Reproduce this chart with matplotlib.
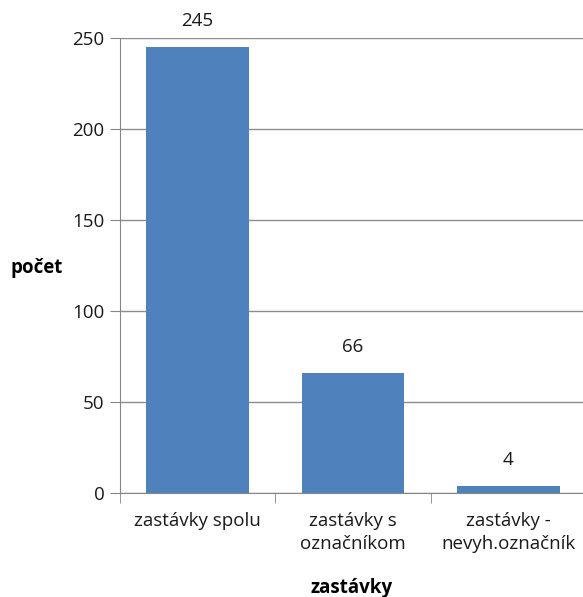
import matplotlib
matplotlib.use("Agg")
import matplotlib.pyplot as plt
import numpy as np

categories = ["zastávky spolu", "zastávky s\noznačníkom", "zastávky -\nnevyh.označník"]
values = [245, 66, 4]
yticks = [0, 50, 100, 150, 200, 250]

plt.rcParams['font.family'] = ['Open Sans', 'DejaVu Sans']
FS = 13.5

fig = plt.figure(figsize=(5.83, 5.97), dpi=100)
ax = fig.add_axes([120/583, 1-493/597, 466/583, 455/597])

x = np.arange(len(categories))
bars = ax.bar(x, values, width=0.66, color="#4F81BD", zorder=3)
ax.set_xlim(-0.5, len(categories) - 0.5)
ax.set_ylim(0, 250)
ax.set_yticks(yticks)
ax.tick_params(axis='y', length=7, color="#868686", labelsize=FS, pad=4, labelcolor="#1a1a1a")
ax.yaxis.grid(True, color="#8c8c8c", linewidth=1, zorder=0)
ax.set_axisbelow(True)

ax.set_xticks(x)
ax.set_xticklabels(categories, fontsize=FS, linespacing=1.35, color="#1a1a1a")
ax.tick_params(axis='x', length=0, pad=14)
ax.set_xticks(np.arange(-0.5, len(categories)), minor=True)
ax.tick_params(axis='x', which='minor', length=7, color="#868686")

for s in ['top', 'right']:
    ax.spines[s].set_visible(False)
for s in ['left', 'bottom']:
    ax.spines[s].set_color("#868686")

for xi, v in zip(x, values):
    ax.annotate(str(v), (xi, v), xytext=(0, 18.5), textcoords='offset points',
                ha='center', va='center', fontsize=FS, color="#1a1a1a")

fig.text(10/583, 1-268/597, "počet", fontsize=FS, fontweight='bold', ha='left', va='center')
fig.text(352/583, 1-588/597, "zastávky", fontsize=FS, fontweight='bold', ha='center', va='center')

fig.savefig("out.png", dpi=100)
